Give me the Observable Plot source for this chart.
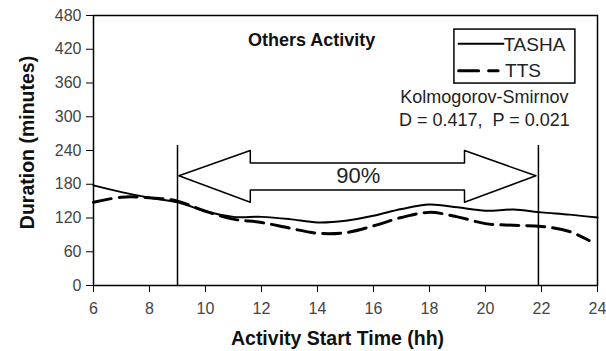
<!DOCTYPE html>
<html>
<head>
<meta charset="utf-8">
<script src="https://cdn.jsdelivr.net/npm/d3@7"></script>
<script src="https://cdn.jsdelivr.net/npm/@observablehq/plot@0.6"></script>
<style>
  html, body { margin: 0; padding: 0; background: #fff; }
  #chart { width: 606px; height: 351px; }
</style>
</head>
<body>
<div id="chart"></div>
<script>
// ---- data ----
const tashaHours = [6, 7, 8, 9, 10, 11, 12, 13, 14, 15, 16, 17, 18, 19, 20, 21, 22, 23, 24];
const tashaMinutes = [178, 166, 156, 148, 132, 122, 122, 118, 112, 115, 124, 136, 144, 139, 133, 135, 130, 126, 121];
const ttsHours = [6, 7, 8, 9, 10, 11, 12, 13, 14, 15, 16, 17, 18, 19, 20, 21, 22, 23, 23.7];
const ttsMinutes = [148, 157, 156, 150, 132, 118, 112, 102, 93, 94, 106, 121, 130, 122, 110, 107, 105, 96, 80];
const xTicks = [6, 8, 10, 12, 14, 16, 18, 20, 22, 24];
const yTicks = [0, 60, 120, 180, 240, 300, 360, 420, 480];
const rangeBounds = [9, 21.89];      // 90% range (hours)
const rangeTop = 249;               // top of the range lines (minutes)
// arrow outline in data units (hours, minutes)
const arrowHours = [9.05, 11.6, 11.6, 19.25, 19.25, 21.8, 19.25, 19.25, 11.6, 11.6, 9.05];
const arrowMinutes = [195, 240, 218, 218, 240, 195, 148, 170, 170, 148, 195];
const legendBox = {x1: 18.89, x2: 23.21, y1: 359, y2: 455};
const seriesNames = ["TASHA", "TTS"];

const tasha = tashaHours.map((h, i) => ({h, m: tashaMinutes[i]}));
const tts = ttsHours.map((h, i) => ({h, m: ttsMinutes[i]}));
const arrow = arrowHours.map((h, i) => ({h, m: arrowMinutes[i]}));

const font = "'Liberation Sans', Arial, sans-serif";

const chart = Plot.plot({
  width: 606,
  height: 351,
  marginLeft: 93,
  marginRight: 9,
  marginTop: 15,
  marginBottom: 66,
  style: {fontFamily: font, background: "#fff", color: "#000"},
  x: {domain: [6, 24]},
  y: {domain: [0, 480]},
  marks: [
    Plot.frame({stroke: "#000", strokeWidth: 1.5}),
    Plot.axisY({ticks: yTicks, tickSize: 7, tickPadding: 5, fontSize: 16, fill: "#444", stroke: "#000", label: null}),
    Plot.axisX({ticks: xTicks, tickSize: 7, tickPadding: 10, fontSize: 16, fill: "#444", stroke: "#000", label: null}),
    Plot.text(["Activity Start Time (hh)"], {frameAnchor: "bottom", dx: -8, dy: 59, fontSize: 19.5, fontWeight: "bold", fill: "#111"}),
    Plot.text(["Duration (minutes)"], {frameAnchor: "left", textAnchor: "middle", lineAnchor: "middle", rotate: -90, dx: -66, dy: -8, fontSize: 19.5, fontWeight: "bold", fill: "#111"}),
    Plot.line(tasha, {x: "h", y: "m", curve: "catmull-rom", stroke: "#000", strokeWidth: 2}),
    Plot.line(tts, {x: "h", y: "m", curve: "catmull-rom", stroke: "#000", strokeWidth: 3, strokeDasharray: "18,8"}),
    Plot.ruleX(rangeBounds, {y1: 0, y2: rangeTop, stroke: "#000", strokeWidth: 1.5}),
    Plot.line(arrow, {x: "h", y: "m", stroke: "#000", strokeWidth: 1.5, fill: "none"}),
    Plot.text(["90%"], {x: 15.46, y: 195, fontSize: 22, fill: "#222"}),
    Plot.text(["Others Activity"], {x: 13.79, y: 436, fontSize: 18, fontWeight: "bold", fill: "#111"}),
    Plot.rect([legendBox], {x1: "x1", x2: "x2", y1: "y1", y2: "y2", fill: "#fff", stroke: "#000", strokeWidth: 1.5}),
    Plot.line([{h: 19.04, m: 430}, {h: 20.64, m: 430}], {x: "h", y: "m", stroke: "#000", strokeWidth: 2}),
    Plot.line([{h: 19.04, m: 382}, {h: 20.45, m: 382}], {x: "h", y: "m", stroke: "#000", strokeWidth: 3, strokeDasharray: "20,10,10,30"}),
    Plot.text([seriesNames[0]], {x: 20.64, y: 428, textAnchor: "start", fontSize: 19, fill: "#222"}),
    Plot.text([seriesNames[1]], {x: 20.7, y: 381, textAnchor: "start", fontSize: 19, fill: "#222"}),
    Plot.text(["Kolmogorov-Smirnov"], {x: 19.96, y: 334, fontSize: 18, fill: "#222"}),
    Plot.text(["D = 0.417,  P = 0.021"], {x: 19.96, y: 293, fontSize: 18, fill: "#222"})
  ]
});
document.getElementById("chart").appendChild(chart);
</script>
</body>
</html>
